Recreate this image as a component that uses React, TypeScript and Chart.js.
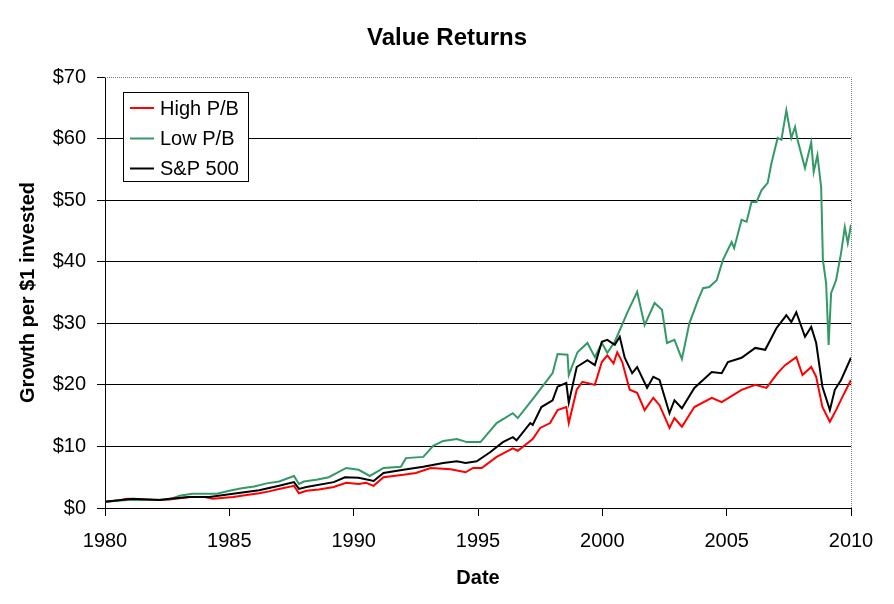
import React, { useEffect, useRef } from "react";
import { Chart, registerables } from "chart.js";

Chart.register(...registerables);

// ---- Data ----
const xTicks = [1980, 1985, 1990, 1995, 2000, 2005, 2010];
const yTicks = [0, 10, 20, 30, 40, 50, 60, 70];

const highDates = [
  1980.0, 1980.5, 1980.9, 1981.5, 1982.2, 1982.6, 1983.4, 1984.0, 1984.35, 1985.15,
  1985.7, 1986.2, 1986.6, 1987.0, 1987.6, 1987.8, 1988.1, 1988.6, 1989.2, 1989.7,
  1990.2, 1990.5, 1990.8, 1991.2, 1992.0, 1992.5, 1993.1, 1993.9, 1994.5, 1994.8,
  1995.15, 1995.75, 1996.4, 1996.6, 1997.2, 1997.5, 1997.9, 1998.2, 1998.55, 1998.65,
  1998.97, 1999.2, 1999.7, 1999.98, 2000.2, 2000.45, 2000.6, 2000.8, 2001.1, 2001.4,
  2001.7, 2002.05, 2002.3, 2002.7, 2002.9, 2003.2, 2003.7, 2004.4, 2004.8, 2005.6,
  2006.15, 2006.6, 2007.05, 2007.35, 2007.8, 2008.05, 2008.4, 2008.6, 2008.85, 2009.15,
  2009.4, 2009.65, 2010.0,
];
const highValues = [
  1.0, 1.2, 1.5, 1.4, 1.3, 1.4, 1.8, 1.8, 1.5, 1.8,
  2.1, 2.4, 2.7, 3.1, 3.6, 2.4, 2.8, 3.0, 3.4, 4.1,
  3.9, 4.1, 3.6, 5.0, 5.4, 5.7, 6.5, 6.3, 5.8, 6.5,
  6.5, 8.3, 9.7, 9.3, 11.2, 13.0, 13.8, 15.9, 16.4, 13.8,
  19.2, 20.5, 20.0, 23.7, 24.8, 23.5, 25.3, 23.7, 19.2, 18.7,
  15.9, 17.9, 16.7, 13.0, 14.6, 13.2, 16.4, 17.9, 17.2, 19.2,
  20.0, 19.5, 21.9, 23.2, 24.5, 21.6, 22.9, 21.3, 16.4, 14.0,
  15.9, 18.0, 20.8,
];

const lowDates = [
  1980.0, 1980.9, 1982.0, 1982.6, 1983.0, 1983.5, 1984.5, 1985.0, 1985.5, 1986.0,
  1986.5, 1987.0, 1987.6, 1987.8, 1988.0, 1988.5, 1989.0, 1989.7, 1990.2, 1990.65,
  1991.2, 1991.9, 1992.1, 1992.8, 1993.2, 1993.6, 1994.15, 1994.55, 1995.1, 1995.75,
  1996.4, 1996.6, 1997.2, 1997.6, 1998.0, 1998.2, 1998.6, 1998.65, 1999.0, 1999.4,
  1999.7, 1999.98, 2000.2, 2000.5, 2001.0, 2001.4, 2001.7, 2002.1, 2002.4, 2002.6,
  2002.9, 2003.2, 2003.5, 2003.85, 2004.05, 2004.3, 2004.6, 2004.85, 2005.2, 2005.3,
  2005.6, 2005.8, 2006.0, 2006.2, 2006.4, 2006.65, 2006.8, 2007.05, 2007.2, 2007.4,
  2007.6, 2007.75, 2007.85, 2008.15, 2008.4, 2008.5, 2008.65, 2008.8, 2008.87, 2009.0,
  2009.1, 2009.2, 2009.4, 2009.6, 2009.75, 2009.87, 2010.0,
];
const lowValues = [
  1.0, 1.3, 1.3, 1.4, 2.0, 2.3, 2.3, 2.8, 3.2, 3.5,
  4.0, 4.3, 5.2, 3.9, 4.3, 4.6, 5.0, 6.5, 6.2, 5.2,
  6.5, 6.7, 8.1, 8.3, 10.1, 10.9, 11.2, 10.7, 10.7, 13.8,
  15.4, 14.6, 17.7, 19.8, 21.9, 25.0, 24.9, 21.6, 25.3, 26.8,
  24.5, 26.8, 25.2, 27.0, 31.7, 35.1, 29.7, 33.3, 32.2, 26.8,
  27.3, 24.2, 30.0, 33.8, 35.7, 35.9, 37.0, 40.3, 43.2, 42.2,
  46.8, 46.5, 49.7, 49.7, 51.6, 52.8, 56.0, 60.1, 59.8, 64.6,
  60.1, 61.9, 59.8, 55.2, 59.4, 54.6, 57.3, 52.1, 40.3, 36.5,
  26.5, 34.9, 37.0, 41.4, 45.6, 43.0, 46.0,
];

const spDates = [
  1980.0, 1981.1, 1982.2, 1982.6, 1983.4, 1984.2, 1985.15, 1986.2, 1987.0, 1987.6,
  1987.8, 1988.1, 1989.2, 1989.65, 1990.2, 1990.8, 1991.2, 1992.0, 1992.8, 1993.6,
  1994.15, 1994.5, 1994.95, 1995.5, 1996.0, 1996.4, 1996.55, 1997.1, 1997.2, 1997.55,
  1998.0, 1998.2, 1998.55, 1998.65, 1998.97, 1999.4, 1999.7, 1999.98, 2000.2, 2000.5,
  2000.7, 2000.9, 2001.2, 2001.4, 2001.8, 2002.05, 2002.3, 2002.7, 2002.9, 2003.2,
  2003.7, 2004.4, 2004.8, 2005.05, 2005.6, 2006.15, 2006.55, 2007.0, 2007.4, 2007.6,
  2007.8, 2008.15, 2008.4, 2008.6, 2008.85, 2009.15, 2009.35, 2009.6, 2010.0,
];
const spValues = [
  1.0, 1.5, 1.3, 1.5, 1.8, 1.8, 2.3, 2.9, 3.6, 4.2,
  3.1, 3.4, 4.2, 5.0, 4.9, 4.4, 5.7, 6.2, 6.7, 7.3,
  7.6, 7.3, 7.6, 9.1, 10.7, 11.5, 11.0, 13.8, 13.5, 16.4,
  17.5, 19.7, 20.3, 17.1, 22.9, 24.0, 23.2, 27.0, 27.3, 26.5,
  27.8, 24.4, 21.9, 22.9, 19.5, 21.3, 20.8, 15.4, 17.5, 16.2,
  19.5, 22.1, 21.9, 23.7, 24.4, 26.0, 25.7, 29.2, 31.3, 30.2,
  31.8, 27.8, 29.4, 26.8, 19.7, 15.9, 19.2, 20.8, 24.4,
];

const seriesNames = ["High P/B", "Low P/B", "S&P 500"];
const seriesColors = ["#FF0000", "#339966", "#000000"];

const FONT = "'Liberation Sans', Arial, sans-serif";

const toPoints = (xs: number[], ys: number[]) => xs.map((x, i) => ({ x, y: ys[i] }));

const framePlugin = {
  id: "frameAndLegend",
  beforeDatasetsDraw(chart: any) {
    const { ctx, chartArea } = chart;
    const { left, right, top, bottom } = chartArea;
    ctx.save();
    ctx.strokeStyle = "#808080";
    ctx.lineWidth = 1;
    ctx.setLineDash([1, 1]);
    ctx.beginPath();
    ctx.moveTo(left, Math.round(top) + 0.5);
    ctx.lineTo(Math.round(right) + 0.5, Math.round(top) + 0.5);
    ctx.lineTo(Math.round(right) + 0.5, bottom);
    ctx.stroke();
    ctx.restore();
  },
  afterDraw(chart: any) {
    const { ctx } = chart;
    const bx = 123.5, by = 92.5, bw = 125, bh = 89;
    ctx.save();
    ctx.fillStyle = "#FFFFFF";
    ctx.fillRect(bx, by, bw, bh);
    ctx.strokeStyle = "#000000";
    ctx.lineWidth = 1;
    ctx.strokeRect(bx, by, bw, bh);
    const rows = [108, 138.5, 168.5];
    ctx.font = `20px ${FONT}`;
    ctx.textBaseline = "middle";
    ctx.textAlign = "left";
    chart.data.datasets.forEach((ds: any, i: number) => {
      const y = rows[i];
      ctx.strokeStyle = ds.borderColor;
      ctx.lineWidth = 2;
      ctx.beginPath();
      ctx.moveTo(130, y);
      ctx.lineTo(154, y);
      ctx.stroke();
      ctx.fillStyle = "#000000";
      ctx.fillText(ds.label, 160, y + 1);
    });
    ctx.restore();
  },
};

export default function App() {
  const canvasRef = useRef<HTMLCanvasElement | null>(null);

  useEffect(() => {
    const canvas = canvasRef.current;
    if (!canvas) return;
    Chart.defaults.font.family = FONT;
    Chart.defaults.color = "#000000";

    const datasets = [
      toPoints(highDates, highValues),
      toPoints(lowDates, lowValues),
      toPoints(spDates, spValues),
    ].map((pts, i) => ({
      label: seriesNames[i],
      data: pts,
      borderColor: seriesColors[i],
      backgroundColor: seriesColors[i],
      borderWidth: 2,
      pointRadius: 0,
      tension: 0,
      fill: false,
      order: 2 - i,
    }));

    const chart = new Chart(canvas, {
      type: "line",
      data: { datasets },
      options: {
        animation: false,
        responsive: false,
        maintainAspectRatio: false,
        layout: { padding: { left: 0, right: 0, top: 0, bottom: 0 } },
        plugins: {
          legend: { display: false },
          tooltip: { enabled: false },
          title: {
            display: true,
            text: "Value Returns",
            font: { family: FONT, size: 24, weight: "bold" },
            color: "#000000",
            padding: { top: 23.6, bottom: 24.6 },
          },
        },
        scales: {
          x: {
            type: "linear",
            min: xTicks[0],
            max: xTicks[xTicks.length - 1],
            afterBuildTicks: (scale: any) => {
              scale.ticks = xTicks.map((v) => ({ value: v }));
            },
            afterFit: (scale: any) => {
              scale.height = 96;
            },
            ticks: {
              callback: (v: any) => String(v),
              font: { family: FONT, size: 20 },
              color: "#000000",
              padding: 13,
              maxRotation: 0,
              autoSkip: false,
            },
            grid: {
              drawOnChartArea: false,
              drawTicks: true,
              tickLength: 8,
              tickColor: "#000000",
              tickWidth: 1,
            },
            border: { display: true, color: "#000000", width: 1 },
            title: {
              display: true,
              text: "Date",
              font: { family: FONT, size: 20, weight: "bold" },
              color: "#000000",
              padding: { top: 0, bottom: 14 },
            },
          },
          y: {
            type: "linear",
            position: "left",
            min: yTicks[0],
            max: yTicks[yTicks.length - 1],
            afterBuildTicks: (scale: any) => {
              scale.ticks = yTicks.map((v) => ({ value: v }));
            },
            afterFit: (scale: any) => {
              scale.width = 105;
            },
            ticks: {
              callback: (v: any) => "$" + v,
              font: { family: FONT, size: 20 },
              color: "#000000",
              padding: 11,
              autoSkip: false,
            },
            grid: {
              color: (ctx: any) =>
                ctx.tick && (ctx.tick.value === 70 || ctx.tick.value === 0)
                  ? "rgba(0,0,0,0)"
                  : "#000000",
              lineWidth: 1,
              drawTicks: true,
              tickLength: 8,
              tickColor: "#000000",
              tickWidth: 1,
            },
            border: { display: true, color: "#000000", width: 1 },
            title: {
              display: true,
              text: "Growth per $1 invested",
              font: { family: FONT, size: 20, weight: "bold" },
              color: "#000000",
              padding: { top: 16, bottom: 0 },
            },
          },
          yRightSpace: {
            type: "linear",
            position: "right",
            min: 0,
            max: 1,
            display: true,
            afterFit: (scale: any) => {
              scale.width = 43;
            },
            ticks: { display: false },
            grid: { display: false, drawTicks: false },
            border: { display: false },
            title: { display: false },
          },
        },
      },
      plugins: [framePlugin],
    } as any);

    return () => chart.destroy();
  }, []);

  return (
    <div style={{ position: "absolute", left: 0, top: 0, width: 894, height: 604, background: "#FFFFFF" }}>
      <canvas ref={canvasRef} width={894} height={604} style={{ width: 894, height: 604, display: "block" }} />
    </div>
  );
}
